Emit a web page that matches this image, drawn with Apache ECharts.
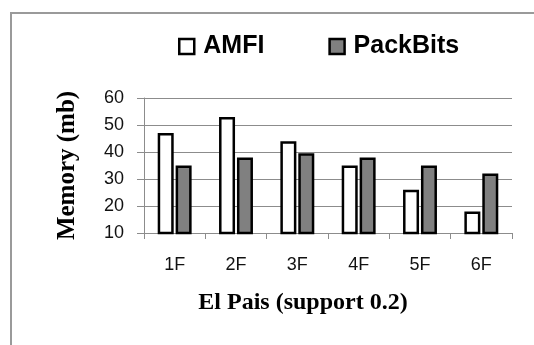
<!DOCTYPE html>
<html>
<head>
<meta charset="utf-8">
<script src="https://cdn.jsdelivr.net/npm/echarts@6/dist/echarts.min.js"></script>
<style>
  html, body { margin: 0; padding: 0; background: #fff; }
  #chart { width: 534px; height: 345px; }
</style>
</head>
<body>
<div id="chart"></div>
<script>
// Memory use per frequency level, El Pais corpus (support 0.2)
const categories = ['1F', '2F', '3F', '4F', '5F', '6F'];
const amfi = [47, 53, 44, 35, 26, 18];
const packBits = [35, 38, 39.5, 38, 35, 32];
const yTicks = [10, 20, 30, 40, 50, 60];

const chart = echarts.init(document.getElementById('chart'), null, { renderer: 'canvas' });

const barStyle = (fill) => ({ color: fill, borderColor: '#000', borderWidth: 2.5 });

chart.setOption({
  animation: false,
  backgroundColor: '#fff',
  graphic: [{
    type: 'rect',
    shape: { x: 11, y: 13, width: 600, height: 400 },
    style: { fill: 'none', stroke: '#9a9a9a', lineWidth: 2 },
    silent: true
  }],
  legend: {
    left: 178,
    top: 34,
    padding: 0,
    itemWidth: 15,
    itemHeight: 15,
    itemGap: 64,
    textStyle: { fontFamily: 'Liberation Sans, Arial', fontWeight: 'bold', fontSize: 25, color: '#000', padding: [0, 0, 0, 4] },
    data: [
      { name: 'AMFI', icon: 'rect', itemStyle: barStyle('#fff') },
      { name: 'PackBits', icon: 'rect', itemStyle: barStyle('#808080') }
    ]
  },
  grid: { left: 144, right: 22, top: 98, bottom: 112 },
  xAxis: {
    type: 'category',
    data: categories,
    name: 'El Pais (support 0.2)',
    nameLocation: 'middle',
    nameGap: 58,
    nameTextStyle: { fontFamily: 'Liberation Serif, Times New Roman', fontWeight: 'bold', fontSize: 24, color: '#000', padding: [0, 50, 0, 0] },
    axisLine: { lineStyle: { color: '#8c8c8c', width: 1 } },
    axisTick: { show: true, alignWithLabel: false, length: 6, lineStyle: { color: '#8c8c8c' } },
    axisLabel: { margin: 23, fontFamily: 'Liberation Sans, Arial', fontSize: 18, color: '#111' }
  },
  yAxis: {
    type: 'value',
    min: yTicks[0],
    max: yTicks[yTicks.length - 1],
    interval: 10,
    name: 'Memory (mb)',
    nameLocation: 'middle',
    nameGap: 64,
    nameRotate: 90,
    nameTextStyle: { fontFamily: 'Liberation Serif, Times New Roman', fontWeight: 'bold', fontSize: 25, color: '#000' },
    axisLine: { show: true, lineStyle: { color: '#8c8c8c', width: 1 } },
    axisTick: { show: true, length: 7, lineStyle: { color: '#8c8c8c' } },
    axisLabel: { margin: 20, fontFamily: 'Liberation Sans, Arial', fontSize: 18, color: '#111' },
    splitLine: { show: true, lineStyle: { color: '#8c8c8c', width: 1 } }
  },
  series: [
    { name: 'AMFI', type: 'bar', data: amfi, barWidth: 16, barGap: '12%', itemStyle: barStyle('#fff') },
    { name: 'PackBits', type: 'bar', data: packBits, barWidth: 16, itemStyle: barStyle('#808080') }
  ]
});
</script>
</body>
</html>
